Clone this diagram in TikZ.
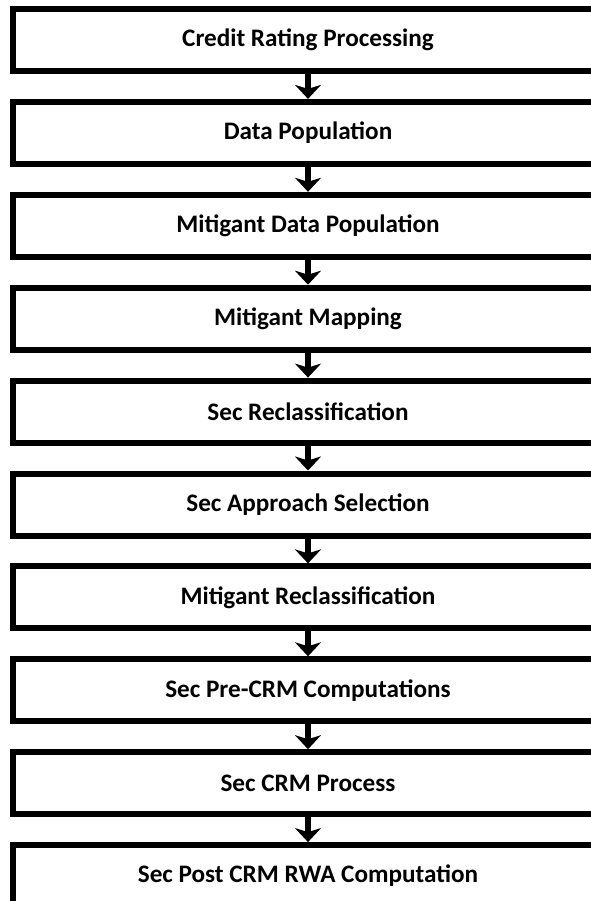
\documentclass[tikz,border=0pt]{standalone}
\usepackage{fontspec}
\setmainfont{Carlito}
\usepackage{tikz}
\usetikzlibrary{positioning,arrows.meta}

\begin{document}
\begin{tikzpicture}[node distance=0.927cm,every node/.style={draw,line width=0.18cm,outer sep=0pt,minimum width=17.67cm,minimum height=1.86cm,font=\bfseries\fontsize{21.5}{24}\selectfont},arr/.style={-{Stealth[length=0.42cm,width=0.78cm,inset=0.12cm]},line width=0.2cm,shorten <=0.09cm,shorten >=0.09cm}]
\useasboundingbox (-9.24,1.2) rectangle (8.46,-25.83);
\node (cr) {Credit Rating Processing};
\node (dp) [below=of cr] {Data Population};
\node (mdp) [below=of dp] {Mitigant Data Population};
\node (mm) [below=of mdp] {Mitigant Mapping};
\node (sr) [below=of mm] {Sec Reclassification};
\node (sas) [below=of sr] {Sec Approach Selection};
\node (mr) [below=of sas] {Mitigant Reclassification};
\node (pre) [below=of mr] {Sec Pre-CRM Computations};
\node (crm) [below=of pre] {Sec CRM Process};
\node (post) [below=of crm] {Sec Post CRM RWA Computation};
\draw[arr] (cr)--(dp); \draw[arr] (dp)--(mdp); \draw[arr] (mdp)--(mm); \draw[arr] (mm)--(sr);
\draw[arr] (sr)--(sas); \draw[arr] (sas)--(mr); \draw[arr] (mr)--(pre); \draw[arr] (pre)--(crm);
\draw[arr] (crm)--(post);
\end{tikzpicture}
\end{document}
